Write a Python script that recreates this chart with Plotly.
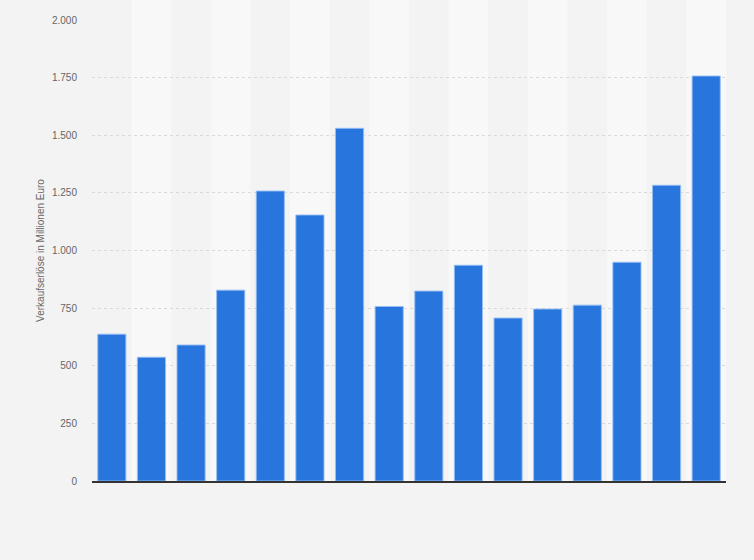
import plotly.graph_objects as go

# Verkaufserlöse je Jahr (Mio. Euro), keine Achsenbeschriftung im Original
years = [str(y) for y in range(2003, 2019)]
sales = [637, 537, 590, 828, 1258, 1154, 1530, 757, 824, 936, 707, 746, 763, 949, 1283, 1757]

y_ticks = [0, 250, 500, 750, 1000, 1250, 1500, 1750, 2000]

bg = "#f3f3f3"
band = "#f8f8f8"

fig = go.Figure(go.Bar(
    x=years, y=sales,
    marker=dict(color="#2876dd", line=dict(color="rgba(150,190,245,0.9)", width=1)),
    hoverinfo="y",
))

# lighter alternating column bands
shapes = []
for i in range(1, len(years), 2):
    shapes.append(dict(
        type="rect", xref="x", yref="paper",
        x0=i - 0.5, x1=i + 0.5, y0=0, y1=1.0434,
        fillcolor=band, line=dict(width=0), layer="below",
    ))

fig.update_layout(
    width=754, height=560,
    paper_bgcolor=bg, plot_bgcolor=bg,
    margin=dict(l=92, r=28, t=20, b=79),
    bargap=0.29,
    separators=",.",
    showlegend=False,
    shapes=shapes,
    font=dict(family="Liberation Sans, Arial, sans-serif", size=10, color="#666666"),
    xaxis=dict(
        showticklabels=False, showgrid=False, ticks="",
        showline=True, linecolor="#333333", linewidth=1.5,
        range=[-0.5, len(years) - 0.5],
    ),
    yaxis=dict(
        range=[0, 2000], tickvals=y_ticks, tickformat=",d",
        showgrid=True, gridcolor="#d9d9d9", gridwidth=1, griddash="dot",
        zeroline=False, showline=False, ticks="",
        ticklabelstandoff=14,
        title=dict(text="Verkaufserlöse in Millionen Euro", standoff=5,
                   font=dict(size=10, color="#666666")),
    ),
)

# page margin off so the figure sits flush in the window
fig.write_html(
    "out.html",
    config={"displayModeBar": False},
    post_script="document.body.style.margin='0';document.body.style.overflow='hidden';",
)
